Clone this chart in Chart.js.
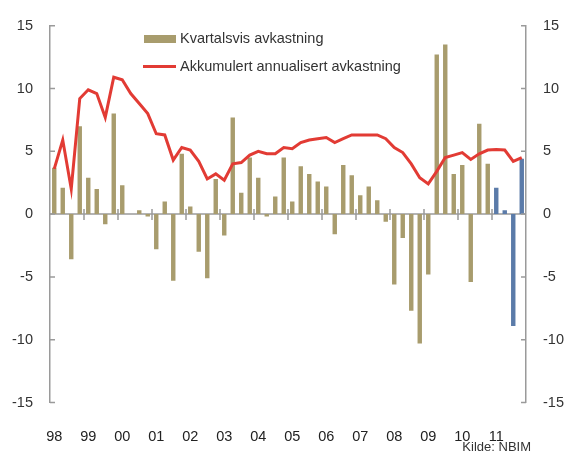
<!DOCTYPE html>
<html>
<head>
<meta charset="utf-8">
<script src="https://cdn.jsdelivr.net/npm/chart.js@4.4.1/dist/chart.umd.min.js"></script>
<style>
  html, body { margin: 0; padding: 0; background: #fff; }
  #wrap { position: relative; width: 568px; height: 452px; }
</style>
</head>
<body>
<div id="wrap"><canvas id="chart" width="568" height="452"></canvas></div>
<script>
// years shown on the x axis, one category per quarter
const years = ['98', '99', '00', '01', '02', '03', '04', '05', '06', '07', '08', '09', '10', '11'];
const quarters = years.flatMap(y => ['K1', 'K2', 'K3', 'K4'].map(q => y + ' ' + q));

// quarterly return, percent
const quarterly = [
  3.7, 2.1, -3.6, 7.0,
  2.9, 2.0, -0.8, 8.0,
  2.3, 0.0, 0.3, -0.2,
  -2.8, 1.0, -5.3, 4.8,
  0.6, -3.0, -5.1, 2.8,
  -1.7, 7.7, 1.7, 4.5,
  2.9, -0.2, 1.4, 4.5,
  1.0, 3.8, 3.2, 2.6,
  2.2, -1.6, 3.9, 3.1,
  1.5, 2.2, 1.1, -0.6,
  -5.6, -1.9, -7.7, -10.3,
  -4.8, 12.7, 13.5, 3.2,
  3.9, -5.4, 7.2, 4.0,
  2.1, 0.3, -8.9, 4.4
];

// accumulated annualised return, percent
const accumulated = [
  3.6, 5.9, 2.0, 9.2,
  9.9, 9.6, 7.7, 10.9,
  10.7, 9.6, 8.8, 8.0,
  6.4, 6.3, 4.3, 5.3,
  5.1, 4.2, 2.8, 3.2,
  2.7, 4.0, 4.1, 4.7,
  5.0, 4.8, 4.8, 5.3,
  5.2, 5.7, 5.9, 6.0,
  6.1, 5.7, 6.0, 6.3,
  6.3, 6.3, 6.3, 6.0,
  5.3, 4.9, 4.0, 2.9,
  2.4, 3.4, 4.5, 4.7,
  4.9, 4.35, 4.8, 5.1,
  5.15, 5.1, 4.2, 4.5
];

const yTicks = [-15, -10, -5, 0, 5, 10, 15];

const OLIVE = '#a89c6d';
const BLUE = '#5b7ba9';
const RED = '#e23b34';
const AXIS = '#9a9a9a';

Chart.defaults.font.family = '"Liberation Sans", Arial, sans-serif';
Chart.defaults.font.size = 14.5;
Chart.defaults.color = '#333';

// bars from the latest year are highlighted in blue
const barColors = quarters.map(q => (q.startsWith('11') ? BLUE : OLIVE));

const axisMarks = {
  id: 'axisMarks',
  beforeDatasetsDraw(chart) {
    const { ctx, chartArea, scales } = chart;
    const y0 = scales.y.getPixelForValue(0);
    ctx.save();
    ctx.strokeStyle = AXIS;
    ctx.lineWidth = 1.5;
    ctx.beginPath();
    ctx.moveTo(chartArea.left, y0);
    ctx.lineTo(chartArea.right, y0);
    ctx.stroke();
    ctx.restore();
  },
  afterDatasetsDraw(chart) {
    const { ctx, chartArea, scales } = chart;
    const y0 = scales.y.getPixelForValue(0);
    ctx.save();
    ctx.strokeStyle = AXIS;
    ctx.lineWidth = 1.5;
    ctx.beginPath();
    // inward ticks on both value axes
    for (const v of yTicks) {
      const py = scales.y.getPixelForValue(v);
      ctx.moveTo(chartArea.left, py);
      ctx.lineTo(chartArea.left + 5, py);
      ctx.moveTo(chartArea.right, py);
      ctx.lineTo(chartArea.right - 5, py);
    }
    // year separators across the zero line
    const x = scales.x;
    for (let i = 4; i < quarters.length; i += 4) {
      const px = (x.getPixelForValue(i - 1) + x.getPixelForValue(i)) / 2;
      ctx.moveTo(px, y0 - 5);
      ctx.lineTo(px, y0 + 6);
    }
    ctx.stroke();
    ctx.restore();
  },
  afterDraw(chart) {
    const { ctx } = chart;
    const [line, bars] = chart.data.datasets;
    ctx.save();
    ctx.font = '14.5px "Liberation Sans", Arial, sans-serif';
    ctx.textBaseline = 'middle';
    ctx.fillStyle = OLIVE;
    ctx.fillRect(144, 35, 32, 8);
    ctx.fillStyle = '#333';
    ctx.fillText(bars.label, 180, 39);
    ctx.strokeStyle = RED;
    ctx.lineWidth = 3;
    ctx.beginPath();
    ctx.moveTo(143, 66.5);
    ctx.lineTo(176, 66.5);
    ctx.stroke();
    ctx.fillText(line.label, 180, 67);
    // source note
    ctx.font = '13px "Liberation Sans", Arial, sans-serif';
    ctx.textAlign = 'right';
    ctx.fillText('Kilde: NBIM', 531, 447);
    ctx.restore();
  }
};

const valueAxis = (position) => ({
  position,
  min: -15,
  max: 15,
  grid: { display: false, drawTicks: false },
  border: { display: true, color: AXIS, width: 1.5 },
  ticks: { stepSize: 5, padding: 17, color: '#333' },
  afterFit(scale) { scale.width = position === 'left' ? 50 : 42; }
});

new Chart(document.getElementById('chart'), {
  data: {
    labels: quarters,
    datasets: [
      {
        type: 'line',
        label: 'Akkumulert annualisert avkastning',
        data: accumulated,
        borderColor: RED,
        borderWidth: 3,
        pointRadius: 0,
        tension: 0,
        yAxisID: 'y',
        order: 0
      },
      {
        type: 'bar',
        label: 'Kvartalsvis avkastning',
        data: quarterly,
        backgroundColor: barColors,
        categoryPercentage: 1,
        barPercentage: 0.52,
        yAxisID: 'y',
        order: 1
      }
    ]
  },
  options: {
    responsive: false,
    animation: false,
    layout: { padding: { top: 24, left: 0, right: 0, bottom: 0 } },
    plugins: {
      legend: { display: false },
      tooltip: { enabled: false }
    },
    scales: {
      x: {
        type: 'category',
        offset: true,
        grid: { display: false, drawTicks: false },
        border: { display: false },
        ticks: {
          autoSkip: false,
          maxRotation: 0,
          padding: 26,
          color: '#222',
          callback: (v, i) => (i % 4 === 0 ? years[i / 4] : '')
        },
        afterFit(scale) { scale.height = 49.5; }
      },
      y: valueAxis('left'),
      y2: valueAxis('right')
    }
  },
  plugins: [axisMarks]
});
</script>
</body>
</html>
